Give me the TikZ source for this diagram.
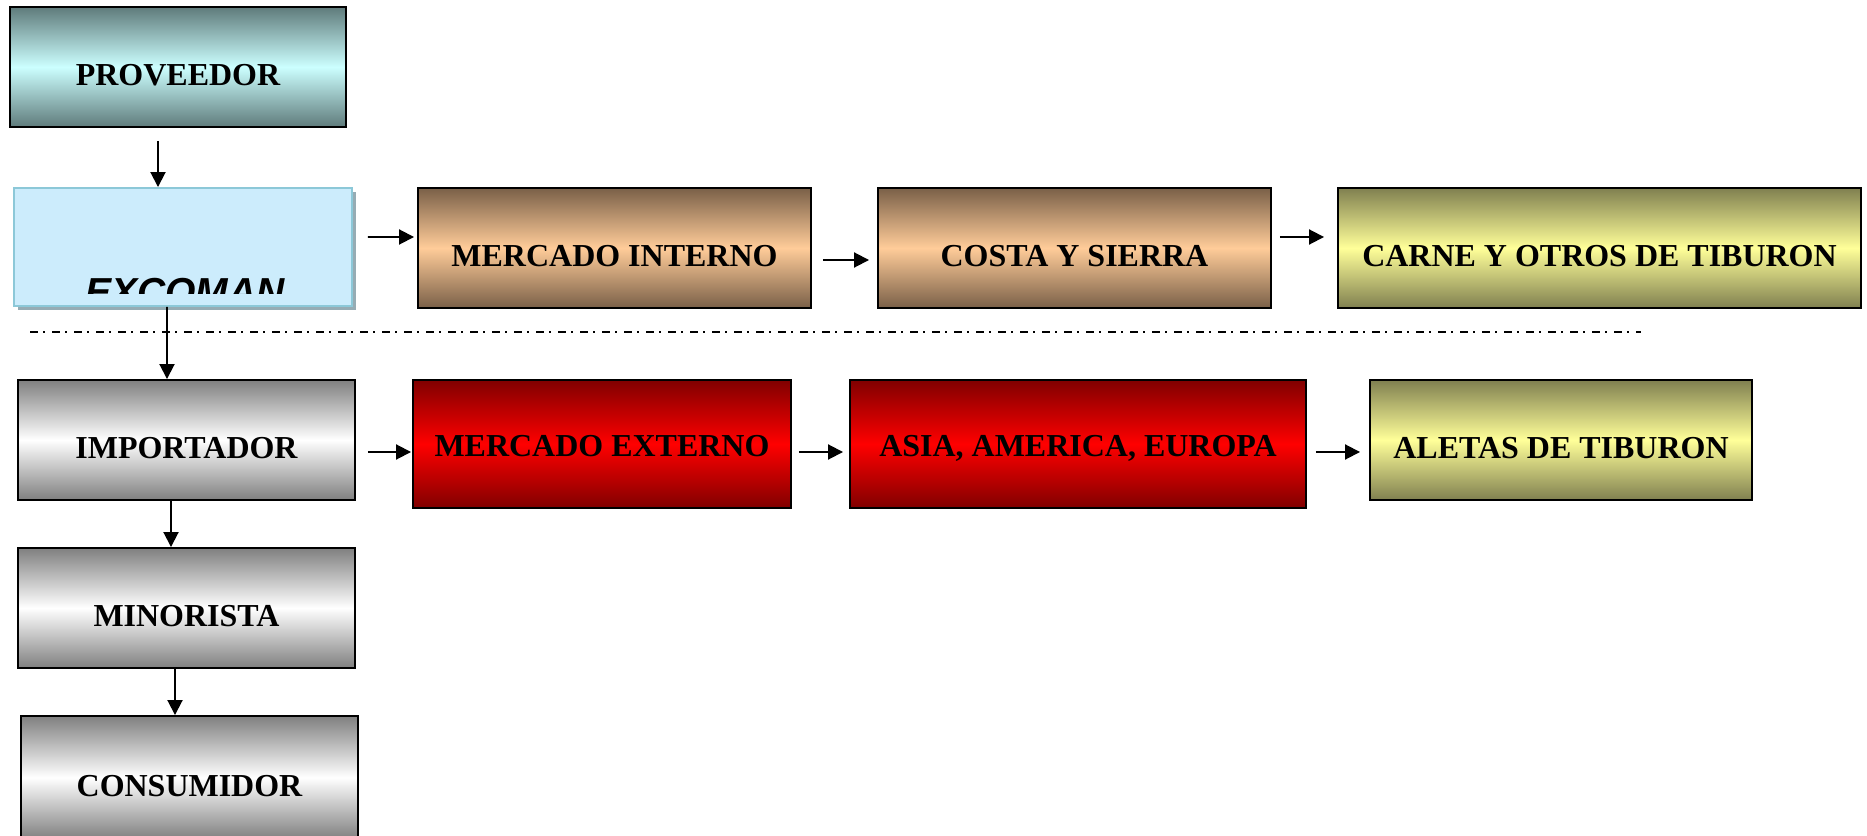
\documentclass[tikz,border=0pt]{standalone}
\usepackage{fontspec}
\setmainfont{Liberation Serif}
\newfontfamily\arialfont{Liberation Sans}
\usepackage{tikz}
\usetikzlibrary{positioning,arrows.meta,shadows}

\definecolor{tealdark}{RGB}{95,123,123}
\definecolor{tealpale}{RGB}{204,255,255}
\definecolor{browndark}{RGB}{122,96,72}
\definecolor{peach}{RGB}{255,204,153}
\definecolor{olivedark}{RGB}{128,128,80}
\definecolor{paleyellow}{RGB}{255,255,153}
\definecolor{darkred}{RGB}{128,0,0}
\definecolor{brightred}{RGB}{255,0,0}
\definecolor{skyfill}{RGB}{204,236,252}
\definecolor{skyline}{RGB}{140,200,216}
\definecolor{shadowgray}{RGB}{150,172,180}

\begin{document}
\begin{tikzpicture}[
    box/.style={draw=black, line width=1.1pt, rectangle, minimum height=2.4cm, inner sep=0pt,
        text height=0.74cm, text depth=0pt, font=\fontsize{18.2}{22}\selectfont\bfseries},
    tealbox/.style={box, top color=tealdark, bottom color=tealdark, middle color=tealpale},
    brownbox/.style={box, top color=browndark, bottom color=browndark, middle color=peach},
    olivebox/.style={box, top color=olivedark, bottom color=olivedark, middle color=paleyellow},
    graybox/.style={box, top color=gray, bottom color=gray, middle color=white},
    redbox/.style={box, minimum height=2.56cm, text height=0.52cm,
        top color=darkred, bottom color=darkred, middle color=brightred},
    arr/.style={-{Triangle[length=0.3cm,width=0.3cm]}, line width=1.1pt}
]
\useasboundingbox (0,0) rectangle (37.34,-16.72);

% left column
\node[tealbox, minimum width=6.72cm] (prov) at (3.56,-1.34) {PROVEEDOR};
\node[draw=skyline, fill=skyfill, line width=1.1pt, minimum width=6.76cm, minimum height=2.36cm,
    drop shadow={shadow xshift=0.08cm, shadow yshift=-0.08cm, fill=shadowgray, opacity=1}]
    (exc) at (3.66,-4.94) {};
\node[graybox, minimum width=6.74cm] (imp) at (3.73,-8.80) {IMPORTADOR};
\node[graybox, minimum width=6.74cm] (min) at (3.73,-12.16) {MINORISTA};
\node[graybox, minimum width=6.74cm, minimum height=2.46cm] (con) at (3.79,-15.55) {CONSUMIDOR};

\begin{scope}
    \clip (exc.north west) rectangle ([yshift=0.26cm]exc.south east);
    \node[anchor=base, inner sep=0pt, font=\arialfont\bfseries\itshape\fontsize{22.2}{26}\selectfont]
        (exctext) at (3.70,-6.12) {EXCOMAN};
\end{scope}

% mercado interno
\node[brownbox, minimum width=7.86cm] (mi) at (12.29,-4.96) {MERCADO INTERNO};
\node[brownbox, minimum width=7.86cm] (cs) at (21.49,-4.96) {COSTA Y SIERRA};
\node[olivebox, minimum width=10.46cm] (carne) at (31.99,-4.96) {CARNE Y OTROS DE TIBURON};

% mercado externo
\node[redbox, minimum width=7.56cm] (me) at (12.04,-8.88) {MERCADO EXTERNO};
\node[redbox, minimum width=9.12cm] (asia) at (21.56,-8.88) {ASIA, AMERICA, EUROPA};
\node[olivebox, minimum width=7.64cm] (aletas) at (31.22,-8.80) {ALETAS DE TIBURON};

% separator
\coordinate (sepl) at (0.60,-6.64);
\coordinate (sepr) at (32.82,-6.64);
\draw[line width=0.8pt, dash pattern=on 0.16cm off 0.1cm on 0.04cm off 0.14cm] (sepl) -- (sepr);

% arrows
\draw[arr] ([xshift=-0.4cm,yshift=-0.26cm]prov.south) -- ([xshift=-0.5cm]exc.north);
\draw[arr] ([xshift=0.3cm,yshift=0.2cm]exc.east) -- ([xshift=-0.06cm,yshift=0.22cm]mi.west);
\draw[arr] ([xshift=0.22cm,yshift=-0.24cm]mi.east) -- ([xshift=-0.16cm,yshift=-0.24cm]cs.west);
\draw[arr] ([xshift=0.16cm,yshift=0.22cm]cs.east) -- ([xshift=-0.26cm,yshift=0.22cm]carne.west);
\draw[arr] ([xshift=-0.32cm]exc.south) -- ([xshift=-0.39cm]imp.north);
\draw[arr] ([xshift=0.24cm,yshift=-0.24cm]imp.east) -- ([xshift=-0.02cm,yshift=-0.16cm]me.west);
\draw[arr] ([xshift=0.14cm,yshift=-0.16cm]me.east) -- ([xshift=-0.12cm,yshift=-0.16cm]asia.west);
\draw[arr] ([xshift=0.18cm,yshift=-0.16cm]asia.east) -- ([xshift=-0.18cm,yshift=-0.24cm]aletas.west);
\draw[arr] ([xshift=-0.31cm]imp.south) -- ([xshift=-0.31cm]min.north);
\draw[arr] ([xshift=-0.23cm]min.south) -- ([xshift=-0.29cm]con.north);
\end{tikzpicture}
\end{document}
